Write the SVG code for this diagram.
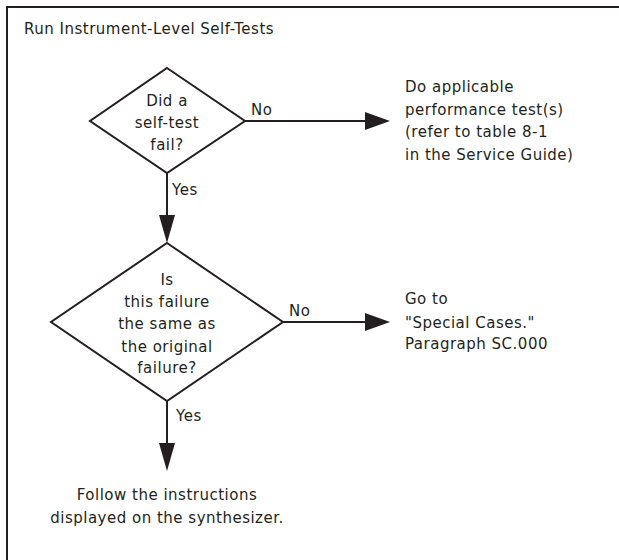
<svg xmlns="http://www.w3.org/2000/svg" width="619" height="560" viewBox="0 0 619 560">
<defs>
<style>
text{font-family:"DejaVu Sans","Liberation Sans",sans-serif;font-size:15px;fill:#231f20;letter-spacing:0.5px}
.c{text-anchor:middle}
.shape{fill:#fff;stroke:#231f20;stroke-width:2}
.line{stroke:#231f20;stroke-width:2;fill:none}
.head{fill:#231f20}
</style>
</defs>
<rect width="619" height="560" fill="#fff"/>
<g id="frame">
<line class="line" x1="7" y1="7" x2="619" y2="7" stroke-width="2.5"/>
<line class="line" x1="7" y1="6" x2="7" y2="560" stroke-width="2.5"/>
<text x="24" y="34">Run Instrument-Level Self-Tests</text>
</g>
<g id="connectors">
<line class="line" x1="245" y1="121" x2="367" y2="121"/>
<polygon class="head" points="365,112 390,121 365,130"/>
<text x="251" y="115">No</text>
<line class="line" x1="167" y1="173" x2="167" y2="217"/>
<polygon class="head" points="159,215 175,215 167,243"/>
<text x="172" y="195">Yes</text>
<line class="line" x1="283" y1="322" x2="367" y2="322"/>
<polygon class="head" points="365,313 390,322 365,331"/>
<text x="289" y="316">No</text>
<line class="line" x1="167" y1="401" x2="167" y2="445"/>
<polygon class="head" points="159,443 175,443 167,471"/>
<text x="176" y="421">Yes</text>
</g>
<g id="d1">
<polygon class="shape" points="167,68 245,121 167,173 90,121"/>
<text class="c" x="167" y="106">Did a</text>
<text class="c" x="167" y="128">self-test</text>
<text class="c" x="167" y="150">fail?</text>
</g>
<g id="d2">
<polygon class="shape" points="167,243 283,322 167,401 51,322"/>
<text class="c" x="167" y="285">Is</text>
<text class="c" x="167" y="307">this failure</text>
<text class="c" x="167" y="329">the same as</text>
<text class="c" x="167" y="352">the original</text>
<text class="c" x="167" y="373">failure?</text>
</g>
<g id="perf">
<text x="405" y="92">Do applicable</text>
<text x="405" y="115">performance test(s)</text>
<text x="405" y="137">(refer to table 8-1</text>
<text x="405" y="160">in the Service Guide)</text>
</g>
<g id="special">
<text x="405" y="304">Go to</text>
<text x="405" y="328">"Special Cases."</text>
<text x="405" y="349">Paragraph SC.000</text>
</g>
<g id="follow">
<text class="c" x="167" y="500">Follow the instructions</text>
<text class="c" x="167" y="523">displayed on the synthesizer.</text>
</g>
</svg>
